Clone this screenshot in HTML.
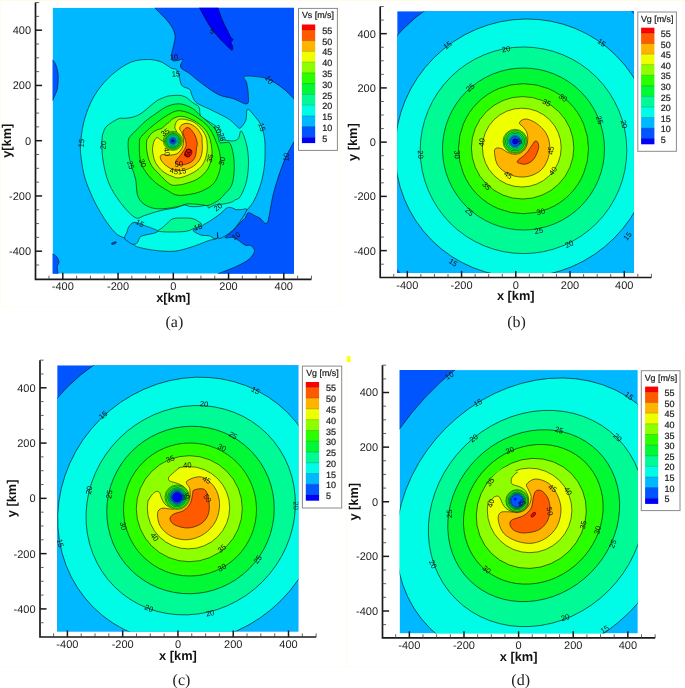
<!DOCTYPE html>
<html><head><meta charset="utf-8"><title>Wind speed contours</title>
<style>
html,body{margin:0;padding:0;background:#fff;}
body{width:685px;height:688px;overflow:hidden;}
svg{display:block;}
text{font-family:"Liberation Sans",sans-serif;fill:#1e1e1e;text-rendering:geometricPrecision;}
svg{will-change:transform;}
.tl{font-size:11px;}
.al{font-size:12.8px;font-weight:bold;fill:#111;}
.lt{font-size:8.9px;fill:#222;stroke:#222;stroke-width:0.22px;}
.lv{font-size:9px;fill:#1a1a1a;stroke:#1a1a1a;stroke-width:0.2px;}
.cap{font-family:"Liberation Serif",serif;font-size:16px;fill:#222;}
.cl{font-size:7.6px;fill:#111;text-anchor:middle;}
</style></head><body>
<svg width="685" height="688" viewBox="0 0 685 688">
<defs>
<clipPath id="ca"><rect x="52.6" y="7.7" width="241.4" height="266"/></clipPath>
<clipPath id="cb"><rect x="397.2" y="11.2" width="236.7" height="261.9"/></clipPath>
<clipPath id="cc"><rect x="57.2" y="365.3" width="241.2" height="266.3"/></clipPath>
<clipPath id="cd"><rect x="399.6" y="370.1" width="238.2" height="263.3"/></clipPath>
</defs>
<rect x="684" y="355" width="1" height="312" fill="#fffdf2"/>
<rect x="0" y="666" width="685" height="1" fill="#fffdf2"/>
<rect x="346" y="355" width="1" height="312" fill="#fffcee"/>
<rect x="0" y="354.5" width="346" height="1" fill="#fffdf2"/>
<rect x="682" y="0" width="1" height="307" fill="#fffcee"/>
<rect x="0" y="306" width="339" height="1" fill="#fffdf2"/>
<rect x="339" y="0" width="1" height="307" fill="#fffcee"/>
<rect x="0" y="0" width="1" height="307" fill="#fffdf0"/>
<rect x="0" y="0" width="685" height="1" fill="#fffbe4"/>
<g clip-path="url(#ca)"><rect x="52.6" y="7.7" width="241.4" height="266" fill="#00b8ff"/>
<path d="M154.8,7.7C155.65,8.6 158.03,11.18 159.9,13.1C161.77,15.02 163.97,16.82 166,19.2C168.03,21.58 170.58,24.6 172.1,27.4C173.62,30.2 174.87,32.95 175.1,36C175.33,39.05 174.1,42.53 173.5,45.7C172.9,48.87 171.65,52.53 171.5,55C171.35,57.47 171.52,59.58 172.6,60.5C173.68,61.42 176.25,60.72 178,60.5C179.75,60.28 182.68,58.1 183.1,59.2C183.52,60.3 179.4,64.68 180.5,67.1C181.6,69.52 185.98,70.85 189.7,73.7C193.42,76.55 197.98,80.7 202.8,84.2C207.62,87.7 213.55,92.3 218.6,94.7C223.65,97.1 228.38,97.07 233.1,98.6C237.82,100.13 244.37,104.52 246.9,103.9C249.43,103.28 248.35,98.43 248.3,94.9C248.25,91.37 247.32,85.75 246.6,82.7C245.88,79.65 242.4,77.62 244,76.6C245.6,75.58 252.13,76.17 256.2,76.6C260.27,77.03 264.03,77.32 268.4,79.2C272.77,81.08 278.33,84.85 282.4,87.9C286.47,90.95 290.87,95.65 292.8,97.5C294.73,99.35 293.8,98.75 294,99 L300,99 L300,2 L154.8,2Z" fill="#0055ff" stroke="#000" stroke-opacity="0.8" stroke-width="0.7"/>
<path d="M294,141.8C292.8,144.02 289.12,150.1 286.8,155.1C284.48,160.1 282.33,165.38 280.1,171.8C277.87,178.22 275.2,186.4 273.4,193.6C271.6,200.8 270.32,210.15 269.3,215C268.28,219.85 268.1,221.42 267.3,222.7C266.5,223.98 265.72,223.45 264.5,222.7C263.28,221.95 261.67,219.4 260,218.2C258.33,217 256.47,216.42 254.5,215.5C252.53,214.58 249.78,212.22 248.2,212.7C246.62,213.18 246.07,217.02 245,218.4C243.93,219.78 243.7,219.07 241.8,221C239.9,222.93 236.35,227.22 233.6,230C230.85,232.78 225.23,236.42 225.3,237.7C225.37,238.98 230.72,236.48 234,237.7C237.28,238.92 242.22,243.68 245,245C247.78,246.32 249.12,244.62 250.7,245.6C252.28,246.58 254.77,248.65 254.5,250.9C254.23,253.15 252.12,256.52 249.1,259.1C246.08,261.68 241.58,263.97 236.4,266.4C231.22,268.83 221.07,272.48 218,273.7 L218,280 L300,280 L300,141.8Z" fill="#0055ff" stroke="#000" stroke-opacity="0.8" stroke-width="0.7"/>
<path d="M52.6,59.9C53.08,60.58 54.58,61.62 55.5,64C56.42,66.38 57.77,70.2 58.1,74.2C58.43,78.2 58.02,84.53 57.5,88C56.98,91.47 55.82,92.9 55,95C54.18,97.1 53,99.67 52.6,100.6 L48,100.6 L48,59.9Z" fill="#0055ff" stroke="#000" stroke-opacity="0.8" stroke-width="0.7"/>
<path d="M52.6,253.9C53.25,254.33 55.42,255.17 56.5,256.5C57.58,257.83 58.97,260.23 59.1,261.9C59.23,263.57 57.48,264.53 57.3,266.5C57.12,268.47 57.88,272.5 58,273.7 L58,280 L48,280 L48,253.9Z" fill="#0055ff" stroke="#000" stroke-opacity="0.8" stroke-width="0.7"/>
<ellipse cx="113.9" cy="243.1" rx="2.6" ry="0.9" transform="rotate(-20 113.9 243.1)" fill="#0055ff" stroke="#000" stroke-opacity="0.8" stroke-width="0.7"/>
<path d="M199.5,7.7C200.35,9.28 202.73,13.92 204.6,17.2C206.47,20.48 208.33,24 210.7,27.4C213.07,30.8 216.25,34.67 218.8,37.6C221.35,40.53 223.8,42.9 226,45C228.2,47.1 230.92,50.03 232,50.2C233.08,50.37 232.67,47.28 232.5,46C232.33,44.72 230.92,43.57 231,42.5C231.08,41.43 233,40.42 233,39.6C233,38.78 231.83,38.95 231,37.6C230.17,36.25 229.35,34.22 228,31.5C226.65,28.78 224.6,25.27 222.9,21.3C221.2,17.33 218.65,9.97 217.8,7.7 L217.8,2 L199.5,2Z" fill="#0000f8" stroke="#000" stroke-opacity="0.8" stroke-width="0.7"/>
<path d="M80.5,145C80.87,138.9 81.9,130.05 83.6,123C85.3,115.95 87.82,108.8 90.7,102.7C93.58,96.6 96.83,91.5 100.9,86.4C104.97,81.3 110.02,76.17 115.1,72.1C120.18,68.03 125.97,64.1 131.4,62C136.83,59.9 142.93,59.58 147.7,59.5C152.47,59.42 156.62,60.42 160,61.5C163.38,62.58 166,64.83 168,66C170,67.17 170.57,67.88 172,68.5C173.43,69.12 175.4,68.4 176.6,69.7C177.8,71 178.33,73.67 179.2,76.3C180.07,78.93 180.05,83.32 181.8,85.5C183.55,87.68 188.05,87.87 189.7,89.4C191.35,90.93 190.6,92.5 191.7,94.7C192.8,96.9 193.35,100.2 196.3,102.6C199.25,105 204.58,106.7 209.4,109.1C214.22,111.5 221.43,114.93 225.2,117C228.97,119.07 229.75,119.67 232,121.5C234.25,123.33 237.08,127.13 238.7,128C240.32,128.87 240.5,128.03 241.7,126.7C242.9,125.37 244.92,122.92 245.9,120C246.88,117.08 246.07,109.75 247.6,109.2C249.13,108.65 252.88,114.05 255.1,116.7C257.32,119.35 259.37,121.75 260.9,125.1C262.43,128.45 263.6,132.63 264.3,136.8C265,140.97 265.1,145.1 265.1,150.1C265.1,155.1 265,161.23 264.3,166.8C263.6,172.37 262.58,177.93 260.9,183.5C259.22,189.07 256.57,195.73 254.2,200.2C251.83,204.67 249.9,206.67 246.7,210.3C243.5,213.93 238.62,218.38 235,222C231.38,225.62 228,229.25 225,232C222,234.75 219.58,237.12 217,238.5C214.42,239.88 212.65,239.27 209.5,240.3C206.35,241.33 202.18,243.25 198.1,244.7C194.02,246.15 189.25,247.9 185,249C180.75,250.1 177.6,251.07 172.6,251.3C167.6,251.53 160.85,251.13 155,250.4C149.15,249.67 141.27,248.13 137.5,246.9C133.73,245.67 134.57,244.48 132.4,243C130.23,241.52 127.12,239.48 124.5,238C121.88,236.52 119.63,236.7 116.7,234.1C113.77,231.5 110.5,227.63 106.9,222.4C103.3,217.17 98.7,209.9 95.1,202.7C91.5,195.5 87.58,186.38 85.3,179.2C83.02,172.02 82.2,165.3 81.4,159.6C80.6,153.9 80.13,151.1 80.5,145Z" fill="#00fce6" stroke="#000" stroke-opacity="0.8" stroke-width="0.7"/>
<path d="M124.5,238C124.33,236.42 126.28,233.87 127,232C127.72,230.13 127.63,228.4 128.8,226.8C129.97,225.2 131.67,222.7 134,222.4C136.33,222.1 139,223.68 142.8,225C146.6,226.32 154.77,228.98 156.8,230.3C158.83,231.62 157.63,231.88 155,232.9C152.37,233.92 143.92,234.78 141,236.4C138.08,238.02 138.82,241.28 137.5,242.6C136.18,243.92 134.68,244.48 133.1,244.3C131.52,244.12 129.43,242.55 128,241.5C126.57,240.45 124.67,239.58 124.5,238Z" fill="#00b8ff" stroke="#000" stroke-opacity="0.8" stroke-width="0.7"/>
<path d="M246.7,210.3C247.7,207.23 242.82,209.72 241,209.6C239.18,209.48 237.25,209.88 235.8,209.6C234.35,209.32 233.77,208.18 232.3,207.9C230.83,207.62 229.05,206.88 227,207.9C224.95,208.92 222.62,211.97 220,214C217.38,216.03 214.22,218.2 211.3,220.1C208.38,222 204.88,224 202.5,225.4C200.12,226.8 198.58,227.65 197,228.5C195.42,229.35 192.37,229.42 193,230.5C193.63,231.58 198.05,234.1 200.8,235C203.55,235.9 207.32,235.32 209.5,235.9C211.68,236.48 212.58,238.2 213.9,238.5C215.22,238.8 216.82,238.72 217.4,237.7C217.98,236.68 217.22,232.3 217.4,232.4C217.58,232.5 217.23,237.7 218.5,238.3C219.77,238.9 222.25,237.72 225,236C227.75,234.28 231.38,232.28 235,228C238.62,223.72 245.7,213.37 246.7,210.3Z" fill="#00b8ff" stroke="#000" stroke-opacity="0.8" stroke-width="0.7"/>
<path d="M102,140C102.1,135.4 102.83,134.17 103.5,132C104.17,129.83 104.75,128.5 106,127C107.25,125.5 108.83,124.42 111,123C113.17,121.58 116.67,119.28 119,118.5C121.33,117.72 122.67,118.53 125,118.3C127.33,118.07 130.32,117.9 133,117.1C135.68,116.3 138.42,115.18 141.1,113.5C143.78,111.82 146.43,109.15 149.1,107C151.77,104.85 154.42,102.27 157.1,100.6C159.78,98.93 163.05,97.8 165.2,97C167.35,96.2 167.6,96.07 170,95.8C172.4,95.53 176.92,95.13 179.6,95.4C182.28,95.67 183.9,96.18 186.1,97.4C188.3,98.62 190.67,101.1 192.8,102.7C194.93,104.3 197.62,104.8 198.9,107C200.18,109.2 199.3,113.75 200.5,115.9C201.7,118.05 203.68,118.3 206.1,119.9C208.52,121.5 212.72,123.77 215,125.5C217.28,127.23 218.73,128.15 219.8,130.3C220.87,132.45 220.53,136.77 221.4,138.4C222.27,140.03 223,139.68 225,140.1C227,140.52 231.17,141.18 233.4,140.9C235.63,140.62 237.15,140.07 238.4,138.4C239.65,136.73 239.93,131.17 240.9,130.9C241.87,130.63 243.08,133.6 244.2,136.8C245.32,140 246.9,145.1 247.6,150.1C248.3,155.1 248.68,161.23 248.4,166.8C248.12,172.37 247.3,178.48 245.9,183.5C244.5,188.52 241.83,194.15 240,196.9C238.17,199.65 236.18,199.18 234.9,200C233.62,200.82 233.75,201.22 232.3,201.8C230.85,202.38 228.25,203.07 226.2,203.5C224.15,203.93 222.05,204.1 220,204.4C217.95,204.7 215.8,204.72 213.9,205.3C212,205.88 209.77,207.9 208.6,207.9C207.43,207.9 208.65,205.52 206.9,205.3C205.15,205.08 200.92,206.4 198.1,206.6C195.28,206.8 192.35,206.77 190,206.5C187.65,206.23 186.35,204.78 184,205C181.65,205.22 179.2,207 175.9,207.8C172.6,208.6 167.9,209.02 164.2,209.8C160.5,210.58 157.02,211.53 153.7,212.5C150.38,213.47 147.42,214.77 144.3,215.6C141.18,216.43 138.95,219.65 135,217.5C131.05,215.35 124.97,208.43 120.6,202.7C116.23,196.97 111.75,190.28 108.8,183.1C105.85,175.92 104.03,166.78 102.9,159.6C101.77,152.42 101.9,144.6 102,140Z" fill="#00fa96" stroke="#000" stroke-opacity="0.8" stroke-width="0.7"/>
<path d="M158.5,231.2C156.73,230.53 160.83,229.03 162,228C163.17,226.97 163.73,226.52 165.5,225C167.27,223.48 169.67,220.07 172.6,218.9C175.53,217.73 179.87,218.07 183.1,218C186.33,217.93 189.67,218.05 192,218.5C194.33,218.95 195.52,219.75 197.1,220.7C198.68,221.65 201.35,223.15 201.5,224.2C201.65,225.25 199.32,226.28 198,227C196.68,227.72 195.5,227.8 193.6,228.5C191.7,229.2 190.1,230.62 186.6,231.2C183.1,231.78 177.28,232 172.6,232C167.92,232 160.27,231.87 158.5,231.2Z" fill="#00fa96" stroke="#000" stroke-opacity="0.8" stroke-width="0.7"/>
<path d="M128.2,141C128.6,137.48 129.93,136.92 131.4,135C132.87,133.08 134.72,131.75 137,129.5C139.28,127.25 141.75,124.3 145.1,121.5C148.45,118.7 153.35,115.25 157.1,112.7C160.85,110.15 164.12,107.68 167.6,106.2C171.08,104.72 174.92,103.93 178,103.8C181.08,103.67 183.42,104.45 186.1,105.4C188.78,106.35 191.97,108.02 194.1,109.5C196.23,110.98 197.17,112.7 198.9,114.3C200.63,115.9 202.35,117.23 204.5,119.1C206.65,120.97 209.92,123.63 211.8,125.5C213.68,127.37 214.73,128.42 215.8,130.3C216.87,132.18 217.5,134.77 218.2,136.8C218.9,138.83 218.87,141.53 220,142.5C221.13,143.47 223.33,142.45 225,142.6C226.67,142.75 228.6,141.32 230,143.4C231.4,145.48 232.7,150.63 233.4,155.1C234.1,159.57 234.48,165.18 234.2,170.2C233.92,175.22 233.23,181.3 231.7,185.2C230.17,189.1 226.95,191.3 225,193.6C223.05,195.9 221.83,197.43 220,199C218.17,200.57 216.1,201.92 214,203C211.9,204.08 209.67,205.23 207.4,205.5C205.13,205.77 202.73,204.85 200.4,204.6C198.07,204.35 195.73,204.1 193.4,204C191.07,203.9 188.73,203.63 186.4,204C184.07,204.37 182.52,205.48 179.4,206.2C176.28,206.92 171.2,207.87 167.7,208.3C164.2,208.73 161.32,208.97 158.4,208.8C155.48,208.63 152.93,208.35 150.2,207.3C147.47,206.25 144.15,204.67 142,202.5C139.85,200.33 138.33,198.05 137.3,194.3C136.27,190.55 136.65,184.37 135.8,180C134.95,175.63 133.33,172.08 132.2,168.1C131.07,164.12 129.67,160.62 129,156.1C128.33,151.58 127.8,144.52 128.2,141Z" fill="#00f836" stroke="#000" stroke-opacity="0.8" stroke-width="0.7"/>
<path d="M139.5,141C139.77,136.98 140.57,137.78 141.9,136C143.23,134.22 144.97,132.58 147.5,130.3C150.03,128.02 153.75,124.83 157.1,122.3C160.45,119.77 164.12,117.03 167.6,115.1C171.08,113.17 174.25,110.97 178,110.7C181.75,110.43 186.35,111.97 190.1,113.5C193.85,115.03 197.55,117.77 200.5,119.9C203.45,122.03 205.78,124.02 207.8,126.3C209.82,128.58 211.27,131.15 212.6,133.6C213.93,136.05 214.73,138.27 215.8,141C216.87,143.73 218.18,146.6 219,150C219.82,153.4 220.65,157.73 220.7,161.4C220.75,165.07 220.42,168.4 219.3,172C218.18,175.6 216.38,180.08 214,183C211.62,185.92 208.32,187.75 205,189.5C201.68,191.25 198.6,192.53 194.1,193.5C189.6,194.47 182.42,195.8 178,195.3C173.58,194.8 171.35,192.62 167.6,190.5C163.85,188.38 159.12,185.67 155.5,182.6C151.88,179.53 148.43,175.85 145.9,172.1C143.37,168.35 141.37,165.28 140.3,160.1C139.23,154.92 139.23,145.02 139.5,141Z" fill="#2aff00" stroke="#000" stroke-opacity="0.8" stroke-width="0.7"/>
<path d="M146.7,141C146.92,138.67 147.67,139.08 148.3,138C148.93,136.92 149.7,135.5 150.5,134.5C151.3,133.5 151.85,132.83 153.1,132C154.35,131.17 156.53,130.12 158,129.5C159.47,128.88 160.57,129.13 161.9,128.3C163.23,127.47 164.78,125.5 166,124.5C167.22,123.5 168,123.3 169.2,122.3C170.4,121.3 171.07,119.5 173.2,118.5C175.33,117.5 178.52,115.93 182,116.3C185.48,116.67 190.48,118.77 194.1,120.7C197.72,122.63 201.28,125.48 203.7,127.9C206.12,130.32 207.33,132.38 208.6,135.2C209.87,138.02 210.77,141.32 211.3,144.8C211.83,148.28 212.38,152.08 211.8,156.1C211.22,160.12 210.08,165.15 207.8,168.9C205.52,172.65 201.72,176.18 198.1,178.6C194.48,181.02 189.45,182.33 186.1,183.4C182.75,184.47 180.68,184.87 178,185C175.32,185.13 173.22,186.08 170,184.2C166.78,182.32 161.92,177.05 158.7,173.7C155.48,170.35 152.65,167.72 150.7,164.1C148.75,160.48 147.67,155.85 147,152C146.33,148.15 146.48,143.33 146.7,141Z" fill="#8eff00" stroke="#000" stroke-opacity="0.8" stroke-width="0.7"/>
<path d="M157.1,137.6C156.3,137.77 155.38,138.77 154.7,140C154.02,141.23 153.33,143 153,145C152.67,147 152.28,149.08 152.7,152C153.12,154.92 153.82,159.28 155.5,162.5C157.18,165.72 160.12,169.03 162.8,171.3C165.48,173.57 168.73,175.02 171.6,176.1C174.47,177.18 176.25,178.47 180,177.8C183.75,177.13 190.28,174.38 194.1,172.1C197.92,169.82 200.77,167.3 202.9,164.1C205.03,160.9 206.23,156.75 206.9,152.9C207.57,149.05 207.3,144.22 206.9,141C206.5,137.78 205.7,135.92 204.5,133.6C203.3,131.28 201.7,129.12 199.7,127.1C197.7,125.08 195.45,122.83 192.5,121.5C189.55,120.17 184.58,119.18 182,119.1C179.42,119.02 178.2,119.67 177,121C175.8,122.33 174.88,125.27 174.8,127.1C174.72,128.93 176.47,129.85 176.5,132C176.53,134.15 176.42,138.17 175,140C173.58,141.83 170.08,142.83 168,143C165.92,143.17 163.92,141.67 162.5,141C161.08,140.33 160.4,139.57 159.5,139C158.6,138.43 157.9,137.43 157.1,137.6Z" fill="#eeff00" stroke="#000" stroke-opacity="0.8" stroke-width="0.7"/>
<path d="M160.3,156.1C160.02,157.03 160.28,158.63 161.1,160.1C161.92,161.57 163.18,163.3 165.2,164.9C167.22,166.5 170.4,168.77 173.2,169.7C176,170.63 178.92,170.9 182,170.5C185.08,170.1 188.88,168.9 191.7,167.3C194.52,165.7 197.17,163.45 198.9,160.9C200.63,158.35 201.57,155.48 202.1,152C202.63,148.52 202.23,142.8 202.1,140C201.97,137.2 202.23,137.22 201.3,135.2C200.37,133.18 198.63,129.85 196.5,127.9C194.37,125.95 190.92,124.03 188.5,123.5C186.08,122.97 183.48,123.83 182,124.7C180.52,125.57 179.6,127.32 179.6,128.7C179.6,130.08 181.35,131.12 182,133C182.65,134.88 183.42,137.67 183.5,140C183.58,142.33 183.42,144.83 182.5,147C181.58,149.17 179.75,151.67 178,153C176.25,154.33 174,154.67 172,155C170,155.33 167.53,155.08 166,155C164.47,154.92 163.75,154.32 162.8,154.5C161.85,154.68 160.58,155.17 160.3,156.1Z" fill="#ffb400" stroke="#000" stroke-opacity="0.8" stroke-width="0.7"/>
<path d="M182.9,132C183.17,130.38 184.9,128.45 186.1,127.9C187.3,127.35 188.63,127.48 190.1,128.7C191.57,129.92 193.7,132.78 194.9,135.2C196.1,137.62 197.03,141.07 197.3,143.2C197.57,145.33 196.77,145.98 196.5,148C196.23,150.02 196.37,153.15 195.7,155.3C195.03,157.45 194.1,159.43 192.5,160.9C190.9,162.37 188.38,163.43 186.1,164.1C183.82,164.77 180.55,165.03 178.8,164.9C177.05,164.77 176,164.1 175.6,163.3C175.2,162.5 175.6,161.43 176.4,160.1C177.2,158.77 178.92,157.32 180.4,155.3C181.88,153.28 184.35,150.02 185.3,148C186.25,145.98 186.23,144.93 186.1,143.2C185.97,141.47 185.03,139.47 184.5,137.6C183.97,135.73 182.63,133.62 182.9,132Z" fill="#ff5a00" stroke="#000" stroke-opacity="0.8" stroke-width="0.7"/>
<ellipse cx="188.3" cy="153" rx="3.3" ry="4.2" transform="rotate(25 188.3 153)" fill="#ff0000" stroke="#000" stroke-opacity="0.8" stroke-width="0.7"/>
<circle cx="172.9" cy="140.9" r="9.6" fill="#8eff00" stroke="#000" stroke-opacity="0.8" stroke-width="0.55"/><circle cx="172.9" cy="140.9" r="8.5" fill="#2aff00" stroke="#000" stroke-opacity="0.8" stroke-width="0.55"/><circle cx="172.9" cy="140.9" r="7.3" fill="#00f836" stroke="#000" stroke-opacity="0.8" stroke-width="0.55"/><circle cx="172.9" cy="140.9" r="6.1" fill="#00fa96" stroke="#000" stroke-opacity="0.8" stroke-width="0.55"/><circle cx="172.9" cy="140.9" r="4.9" fill="#00fce6" stroke="#000" stroke-opacity="0.8" stroke-width="0.55"/><circle cx="172.9" cy="140.9" r="3.8" fill="#00b8ff" stroke="#000" stroke-opacity="0.8" stroke-width="0.55"/><circle cx="172.9" cy="140.9" r="2.7" fill="#0055ff" stroke="#000" stroke-opacity="0.8" stroke-width="0.55"/><circle cx="172.9" cy="140.9" r="1.2" fill="#0000f8" stroke="#000" stroke-opacity="0.8" stroke-width="0.55"/>
<text x="212" y="33.7" transform="rotate(15.95 212 31)" class="cl">5</text>
<text x="174" y="59.7" transform="rotate(-2.46 174 57)" class="cl">10</text>
<text x="176" y="76.5" transform="rotate(-1.5 176 73.8)" class="cl">15</text>
<text x="269.2" y="82.5" transform="rotate(52.41 269.2 79.8)" class="cl">10</text>
<text x="262" y="129.7" transform="rotate(74.69 262 127)" class="cl">15</text>
<text x="286" y="159.7" transform="rotate(-86.29 286 157)" class="cl">10</text>
<text x="81.2" y="145.7" transform="rotate(-85.86 81.2 143)" class="cl">15</text>
<text x="103.2" y="147.7" transform="rotate(-86.18 103.2 145)" class="cl">20</text>
<text x="165.2" y="134.9" transform="rotate(-35.72 165.2 132.2)" class="cl">35</text>
<text x="218" y="131.7" transform="rotate(62.3 218 129)" class="cl">20</text>
<text x="222" y="139.7" transform="rotate(73.54 222 137)" class="cl">25</text>
<text x="222" y="163.7" transform="rotate(-75.96 222 161)" class="cl">30</text>
<text x="166.8" y="154.5" transform="rotate(80.87 166.8 151.8)" class="cl">40</text>
<text x="188" y="155.7" transform="rotate(-73.3 188 153)" class="cl">50</text>
<text x="130.8" y="167.7" transform="rotate(72.37 130.8 165)" class="cl">25</text>
<text x="142.8" y="165.7" transform="rotate(69.73 142.8 163)" class="cl">30</text>
<text x="178.8" y="166.5" transform="rotate(-3.32 178.8 163.8)" class="cl">50</text>
<text x="210" y="160.9" transform="rotate(-75.63 210 158.2)" class="cl">35</text>
<text x="174" y="173.7" transform="rotate(10.78 174 171)" class="cl">45</text>
<text x="182" y="173.7" transform="rotate(-10.78 182 171)" class="cl">15</text>
<text x="218" y="209.7" transform="rotate(-35.06 218 207)" class="cl">20</text>
<text x="140" y="225.7" transform="rotate(27.5 140 223)" class="cl">15</text>
<text x="198" y="229.7" transform="rotate(-14.56 198 227)" class="cl">15</text>
<text x="236" y="238.5" transform="rotate(-34.06 236 235.8)" class="cl">10</text></g>
<g clip-path="url(#cb)"><rect x="397.2" y="11.2" width="236.7" height="261.9" fill="#0055ff"/>
<ellipse cx="523.5" cy="149" rx="176" ry="170" transform="rotate(-45 523.5 149)" fill="#00b8ff" stroke="#000" stroke-opacity="0.8" stroke-width="0.7"/>
<path d="M396,267.5L401.5,274L396,274Z" fill="#0055ff"/>
<path d="M629.5,10L635,10L635,15Z" fill="#0055ff"/>
<ellipse cx="524" cy="148" rx="130.5" ry="127.5" transform="rotate(-45 524 148)" fill="#00fce6" stroke="#000" stroke-opacity="0.8" stroke-width="0.7"/>
<circle cx="523.5" cy="150.3" r="103.3" fill="#00fa96" stroke="#000" stroke-opacity="0.8" stroke-width="0.7"/>
<circle cx="523.5" cy="149" r="81" fill="#00f836" stroke="#000" stroke-opacity="0.8" stroke-width="0.7"/>
<circle cx="523.5" cy="148.7" r="65" fill="#2aff00" stroke="#000" stroke-opacity="0.8" stroke-width="0.7"/>
<circle cx="522.6" cy="147.8" r="51.2" fill="#8eff00" stroke="#000" stroke-opacity="0.8" stroke-width="0.7"/>
<circle cx="521.8" cy="147.6" r="39.4" fill="#eeff00" stroke="#000" stroke-opacity="0.8" stroke-width="0.7"/>
<path d="M519.4,123.4C519.17,122.2 520.68,120.8 522,120.1C523.32,119.4 524.88,118.65 527.3,119.2C529.72,119.75 533.43,121.17 536.5,123.4C539.57,125.63 543.52,129.1 545.7,132.6C547.88,136.1 549.17,140.23 549.6,144.4C550.03,148.57 549.6,153.43 548.3,157.6C547,161.77 544.87,166.33 541.8,169.4C538.73,172.47 534.07,174.8 529.9,176C525.73,177.2 520.95,177.27 516.8,176.6C512.65,175.93 508.28,174.08 505,172C501.72,169.92 498.85,167.38 497.1,164.1C495.35,160.82 494.72,154.92 494.5,152.3C494.28,149.68 494.72,149.05 495.8,148.4C496.88,147.75 499.03,147.75 501,148.4C502.97,149.05 505.18,151.32 507.6,152.3C510.02,153.28 512.87,154.52 515.5,154.3C518.13,154.08 521.43,152.87 523.4,151C525.37,149.13 526.65,145.95 527.3,143.1C527.95,140.25 527.95,136.53 527.3,133.9C526.65,131.27 524.72,129.05 523.4,127.3C522.08,125.55 519.63,124.6 519.4,123.4Z" fill="#ffb400" stroke="#000" stroke-opacity="0.8" stroke-width="0.7"/>
<path d="M535.2,141.1C536.07,140.77 537.25,141.18 537.8,142.4C538.35,143.62 539.15,145.65 538.5,148.4C537.85,151.15 535.98,156.28 533.9,158.9C531.82,161.52 528.63,163.45 526,164.1C523.37,164.75 519.42,163.45 518.1,162.8C516.78,162.15 516.78,161.73 518.1,160.2C519.42,158.67 523.58,156.23 526,153.6C528.42,150.97 531.07,146.48 532.6,144.4C534.13,142.32 534.33,141.43 535.2,141.1Z" fill="#ff5a00" stroke="#000" stroke-opacity="0.8" stroke-width="0.7"/>
<circle cx="515.1" cy="141.4" r="12.1" fill="#8eff00" stroke="#000" stroke-opacity="0.8" stroke-width="0.55"/><circle cx="515.1" cy="141.4" r="11.2" fill="#2aff00" stroke="#000" stroke-opacity="0.8" stroke-width="0.55"/><circle cx="515.1" cy="141.4" r="9.6" fill="#00f836" stroke="#000" stroke-opacity="0.8" stroke-width="0.55"/><circle cx="515.1" cy="141.4" r="8" fill="#00fa96" stroke="#000" stroke-opacity="0.8" stroke-width="0.55"/><circle cx="515.1" cy="141.4" r="6.6" fill="#00fce6" stroke="#000" stroke-opacity="0.8" stroke-width="0.55"/><circle cx="515.1" cy="141.4" r="5.8" fill="#00b8ff" stroke="#000" stroke-opacity="0.8" stroke-width="0.55"/><circle cx="515.1" cy="141.4" r="4.9" fill="#0055ff" stroke="#000" stroke-opacity="0.8" stroke-width="0.55"/><circle cx="515.1" cy="141.4" r="2.6" fill="#0000f8" stroke="#000" stroke-opacity="0.8" stroke-width="0.55"/>
<text x="447.5" y="47.8" transform="rotate(-36.18 447.5 45.1)" class="cl">15</text>
<text x="506" y="51.7" transform="rotate(-9.93 506 49)" class="cl">20</text>
<text x="601.7" y="45.4" transform="rotate(36.34 601.7 42.7)" class="cl">15</text>
<text x="470.3" y="90.2" transform="rotate(-40.86 470.3 87.5)" class="cl">25</text>
<text x="563.1" y="100.3" transform="rotate(37.61 563.1 97.6)" class="cl">30</text>
<text x="546.8" y="105.2" transform="rotate(26.61 546.8 102.5)" class="cl">35</text>
<text x="599.7" y="122.7" transform="rotate(69.16 599.7 120)" class="cl">25</text>
<text x="624.1" y="126.8" transform="rotate(76.1 624.1 124.1)" class="cl">20</text>
<text x="481.7" y="145.1" transform="rotate(-81.03 481.7 142.4)" class="cl">40</text>
<text x="420.7" y="157.3" transform="rotate(86.88 420.7 154.6)" class="cl">20</text>
<text x="457.3" y="157.3" transform="rotate(85.16 457.3 154.6)" class="cl">30</text>
<text x="550.9" y="153.2" transform="rotate(-86.87 550.9 150.5)" class="cl">45</text>
<text x="508.2" y="177.6" transform="rotate(30.57 508.2 174.9)" class="cl">45</text>
<text x="552.9" y="173.6" transform="rotate(-53.32 552.9 170.9)" class="cl">40</text>
<text x="486.6" y="188.6" transform="rotate(45 486.6 185.9)" class="cl">35</text>
<text x="469.5" y="214.3" transform="rotate(40.78 469.5 211.6)" class="cl">25</text>
<text x="540.7" y="214.3" transform="rotate(-15.36 540.7 211.6)" class="cl">30</text>
<text x="538.7" y="233.4" transform="rotate(-10.54 538.7 230.7)" class="cl">25</text>
<text x="569.2" y="246.8" transform="rotate(-25.67 569.2 244.1)" class="cl">20</text>
<text x="627.4" y="238.7" transform="rotate(-50.06 627.4 236)" class="cl">15</text>
<text x="453.2" y="265.1" transform="rotate(31.8 453.2 262.4)" class="cl">15</text>
<text x="519.5" y="144.2" transform="rotate(-28.07 519.5 141.5)" class="cl">5</text></g>
<g clip-path="url(#cc)"><rect x="57.2" y="365.3" width="241.2" height="266.3" fill="#0055ff"/>
<ellipse cx="190.5" cy="510" rx="181" ry="174" transform="rotate(-45 190.5 510)" fill="#00b8ff" stroke="#000" stroke-opacity="0.8" stroke-width="0.7"/>
<ellipse cx="190.5" cy="510" rx="137.5" ry="128" transform="rotate(-45 190.5 510)" fill="#00fce6" stroke="#000" stroke-opacity="0.8" stroke-width="0.7"/>
<ellipse cx="190.7" cy="510.2" rx="108" ry="101.3" transform="rotate(-45 190.7 510.2)" fill="#00fa96" stroke="#000" stroke-opacity="0.8" stroke-width="0.7"/>
<ellipse cx="190.5" cy="510" rx="84.5" ry="83" transform="rotate(-45 190.5 510)" fill="#00f836" stroke="#000" stroke-opacity="0.8" stroke-width="0.7"/>
<circle cx="190" cy="509.5" r="66.5" fill="#2aff00" stroke="#000" stroke-opacity="0.8" stroke-width="0.7"/>
<circle cx="189.3" cy="508.7" r="53" fill="#8eff00" stroke="#000" stroke-opacity="0.8" stroke-width="0.7"/>
<circle cx="188.5" cy="507.7" r="41.2" fill="#eeff00" stroke="#000" stroke-opacity="0.8" stroke-width="0.7"/>
<path d="M179.42,467.99C180.75,468.94 178.44,468.48 177.23,469.45C176.01,470.43 173.5,472.59 172.12,473.83C170.73,475.07 169.51,476.05 168.91,476.9C168.3,477.75 168.3,478.24 168.47,478.94C168.64,479.65 168.47,480.4 169.93,481.13C171.39,481.86 175.04,482.47 177.23,483.32C179.42,484.17 181.48,485.15 183.07,486.24C184.65,487.34 185.79,488.53 186.72,489.89C187.64,491.25 188.37,492.93 188.61,494.42C188.86,495.9 188.69,497.34 188.18,498.8C187.66,500.26 186.76,501.91 185.55,503.18C184.33,504.44 182.75,505.66 180.88,506.39C179,507.12 176.37,507.51 174.31,507.55C172.24,507.6 170.17,507.43 168.47,506.68C166.76,505.92 165.3,504.61 164.09,503.03C162.87,501.45 161.9,498.89 161.17,497.19C160.44,495.49 160.44,493.78 159.71,492.81C158.98,491.84 158,491.11 156.79,491.35C155.57,491.59 153.87,492.69 152.41,494.27C150.95,495.85 149.37,501.3 148.03,500.84C146.69,500.38 143.28,496.22 144.38,491.5C145.47,486.78 150.46,477.14 154.6,472.52C158.73,467.9 165.06,464.51 169.2,463.76C173.33,463 178.08,467.04 179.42,467.99Z" fill="#8eff00"/>
<path d="M179.42,467.99C179.05,468.24 178.44,468.48 177.23,469.45C176.01,470.43 173.5,472.59 172.12,473.83C170.73,475.07 169.51,476.05 168.91,476.9C168.3,477.75 168.3,478.24 168.47,478.94C168.64,479.65 168.47,480.4 169.93,481.13C171.39,481.86 175.04,482.47 177.23,483.32C179.42,484.17 181.48,485.15 183.07,486.24C184.65,487.34 185.79,488.53 186.72,489.89C187.64,491.25 188.37,492.93 188.61,494.42C188.86,495.9 188.69,497.34 188.18,498.8C187.66,500.26 186.76,501.91 185.55,503.18C184.33,504.44 182.75,505.66 180.88,506.39C179,507.12 176.37,507.51 174.31,507.55C172.24,507.6 170.17,507.43 168.47,506.68C166.76,505.92 165.3,504.61 164.09,503.03C162.87,501.45 161.9,498.89 161.17,497.19C160.44,495.49 160.44,493.78 159.71,492.81C158.98,491.84 158,491.11 156.79,491.35C155.57,491.59 153.87,492.69 152.41,494.27C150.95,495.85 148.76,499.74 148.03,500.84" fill="none" stroke="#000" stroke-opacity="0.8" stroke-width="0.7"/>
<path d="M186.72,481.28C188.66,479.33 196.69,475.92 201.31,476.9C205.94,477.87 211.41,482.74 214.45,487.12C217.49,491.5 219.32,497.58 219.56,503.18C219.81,508.77 218.47,515.58 215.91,520.69C213.36,525.8 208.86,530.67 204.23,533.83C199.61,537 193.53,539.18 188.18,539.67C182.82,540.16 176.74,538.94 172.12,536.75C167.49,534.56 162.87,530.43 160.44,526.53C158,522.64 157.27,516.44 157.52,513.39C157.76,510.35 159.46,509.01 161.9,508.28C164.33,507.55 168.47,509.38 172.12,509.01C175.77,508.65 180.88,507.8 183.8,506.09C186.72,504.39 188.66,501.72 189.64,498.8C190.61,495.88 190.12,491.5 189.64,488.58C189.15,485.66 184.77,483.22 186.72,481.28Z" fill="#ffb400" stroke="#000" stroke-opacity="0.8" stroke-width="0.7"/>
<path d="M194.01,490.04C195.96,489.18 201.8,487.85 204.23,489.31C206.67,490.77 207.88,494.78 208.61,498.8C209.34,502.81 209.83,509.26 208.61,513.39C207.4,517.53 204.72,521.18 201.31,523.61C197.91,526.05 192.55,527.75 188.18,527.99C183.8,528.24 178.08,526.53 175.04,525.07C172,523.61 170.17,521.06 169.93,519.23C169.68,517.41 171.27,515.58 173.58,514.12C175.89,512.66 181,512.3 183.8,510.47C186.59,508.65 188.91,505.85 190.36,503.18C191.82,500.5 191.95,496.61 192.55,494.42C193.16,492.23 192.07,490.89 194.01,490.04Z" fill="#ff5a00" stroke="#000" stroke-opacity="0.8" stroke-width="0.7"/>
<circle cx="177.2" cy="497.2" r="12.3" fill="#8eff00" stroke="#000" stroke-opacity="0.8" stroke-width="0.55"/><circle cx="177.2" cy="497.2" r="11.3" fill="#2aff00" stroke="#000" stroke-opacity="0.8" stroke-width="0.55"/><circle cx="177.2" cy="497.2" r="9.6" fill="#00f836" stroke="#000" stroke-opacity="0.8" stroke-width="0.55"/><circle cx="177.2" cy="497.2" r="8.4" fill="#00fa96" stroke="#000" stroke-opacity="0.8" stroke-width="0.55"/><circle cx="177.2" cy="497.2" r="7.5" fill="#00fce6" stroke="#000" stroke-opacity="0.8" stroke-width="0.55"/><circle cx="177.2" cy="497.2" r="6.8" fill="#00b8ff" stroke="#000" stroke-opacity="0.8" stroke-width="0.55"/><circle cx="177.2" cy="497.2" r="6" fill="#0055ff" stroke="#000" stroke-opacity="0.8" stroke-width="0.55"/><circle cx="177.2" cy="497.2" r="4.6" fill="#0000f8" stroke="#000" stroke-opacity="0.8" stroke-width="0.55"/>
<text x="255.6" y="393.2" transform="rotate(28.58 255.6 390.5)" class="cl">15</text>
<text x="204" y="406.6" transform="rotate(7.25 204 403.9)" class="cl">20</text>
<text x="103.1" y="417.6" transform="rotate(-42.58 103.1 414.9)" class="cl">15</text>
<text x="233.2" y="438" transform="rotate(29.75 233.2 435.3)" class="cl">25</text>
<text x="221.9" y="450.2" transform="rotate(26.67 221.9 447.5)" class="cl">30</text>
<text x="170.2" y="461.6" transform="rotate(-21.67 170.2 458.9)" class="cl">35</text>
<text x="187.3" y="467.7" transform="rotate(-4.07 187.3 465)" class="cl">40</text>
<text x="206.8" y="482.7" transform="rotate(28.52 206.8 480)" class="cl">45</text>
<text x="88.8" y="492.9" transform="rotate(-78.98 88.8 490.2)" class="cl">20</text>
<text x="109.2" y="497" transform="rotate(-79.07 109.2 494.3)" class="cl">25</text>
<text x="207.6" y="501" transform="rotate(55.62 207.6 498.3)" class="cl">50</text>
<text x="296.3" y="508.3" transform="rotate(87.62 296.3 505.6)" class="cl">20</text>
<text x="123.4" y="528.7" transform="rotate(76.59 123.4 526)" class="cl">30</text>
<text x="154.7" y="539.7" transform="rotate(52.98 154.7 537)" class="cl">40</text>
<text x="60.3" y="545.8" transform="rotate(75.74 60.3 543.1)" class="cl">15</text>
<text x="221.9" y="551.1" transform="rotate(-39.27 221.9 548.4)" class="cl">35</text>
<text x="257.7" y="562" transform="rotate(-53.74 257.7 559.3)" class="cl">25</text>
<text x="221.9" y="570.2" transform="rotate(-28.64 221.9 567.5)" class="cl">30</text>
<text x="149" y="610.9" transform="rotate(22.91 149 608.2)" class="cl">20</text>
<text x="210.1" y="615.7" transform="rotate(-10.77 210.1 613)" class="cl">20</text>
<text x="185.5" y="499.2" transform="rotate(-20.32 185.5 496.5)" class="cl">35</text></g>
<g clip-path="url(#cd)"><rect x="399.6" y="370.1" width="238.2" height="263.3" fill="#00b8ff"/>
<path d="M398,369L456.1,369Q425,393 398,431Z" fill="#0055ff" stroke="#000" stroke-opacity="0.8" stroke-width="0.7"/>
<ellipse cx="537.9" cy="519.9" rx="153" ry="130" transform="rotate(-45 537.9 519.9)" fill="#00fce6" stroke="#000" stroke-opacity="0.8" stroke-width="0.7"/>
<ellipse cx="536.5" cy="518.5" rx="114" ry="102" transform="rotate(-45 536.5 518.5)" fill="#00fa96" stroke="#000" stroke-opacity="0.8" stroke-width="0.7"/>
<ellipse cx="533.7" cy="515.7" rx="91" ry="80.6" transform="rotate(-45 533.7 515.7)" fill="#00f836" stroke="#000" stroke-opacity="0.8" stroke-width="0.7"/>
<ellipse cx="533.3" cy="514.3" rx="73.5" ry="66" transform="rotate(-45 533.3 514.3)" fill="#2aff00" stroke="#000" stroke-opacity="0.8" stroke-width="0.7"/>
<ellipse cx="531.3" cy="513.4" rx="56.5" ry="53.5" transform="rotate(-45 531.3 513.4)" fill="#8eff00" stroke="#000" stroke-opacity="0.8" stroke-width="0.7"/>
<circle cx="529.6" cy="510.4" r="42.3" fill="#eeff00" stroke="#000" stroke-opacity="0.8" stroke-width="0.7"/>
<path d="M517.7,472C519.17,473.2 515.77,473.23 514.8,474.2C513.83,475.17 512.5,476.58 511.9,477.8C511.3,479.02 511.08,480.4 511.2,481.5C511.32,482.6 511.27,483.55 512.6,484.4C513.93,485.25 517.25,485.75 519.2,486.6C521.15,487.45 522.97,488.28 524.3,489.5C525.63,490.72 526.47,492.32 527.2,493.9C527.93,495.48 528.57,497.18 528.7,499C528.83,500.82 528.62,503.1 528,504.8C527.38,506.5 526.47,508.03 525,509.2C523.53,510.37 521.38,511.43 519.2,511.8C517.02,512.17 514.08,511.95 511.9,511.4C509.72,510.85 507.68,509.83 506.1,508.5C504.52,507.17 503.38,505.1 502.4,503.4C501.42,501.7 500.93,499.52 500.2,498.3C499.47,497.08 498.97,496.35 498,496.1C497.03,495.85 495.48,496.2 494.4,496.8C493.32,497.4 492.32,498.92 491.5,499.7C490.68,500.48 490.42,502.28 489.5,501.5C488.58,500.72 485.58,498.92 486,495C486.42,491.08 488.67,482.67 492,478C495.33,473.33 501.72,468 506,467C510.28,466 516.23,470.8 517.7,472Z" fill="#8eff00"/>
<path d="M517.7,472C517.22,472.37 515.77,473.23 514.8,474.2C513.83,475.17 512.5,476.58 511.9,477.8C511.3,479.02 511.08,480.4 511.2,481.5C511.32,482.6 511.27,483.55 512.6,484.4C513.93,485.25 517.25,485.75 519.2,486.6C521.15,487.45 522.97,488.28 524.3,489.5C525.63,490.72 526.47,492.32 527.2,493.9C527.93,495.48 528.57,497.18 528.7,499C528.83,500.82 528.62,503.1 528,504.8C527.38,506.5 526.47,508.03 525,509.2C523.53,510.37 521.38,511.43 519.2,511.8C517.02,512.17 514.08,511.95 511.9,511.4C509.72,510.85 507.68,509.83 506.1,508.5C504.52,507.17 503.38,505.1 502.4,503.4C501.42,501.7 500.93,499.52 500.2,498.3C499.47,497.08 498.97,496.35 498,496.1C497.03,495.85 495.48,496.2 494.4,496.8C493.32,497.4 492.32,498.92 491.5,499.7C490.68,500.48 489.83,501.2 489.5,501.5" fill="none" stroke="#000" stroke-opacity="0.8" stroke-width="0.7"/>
<path d="M526.72,484.09C527.93,482.38 531.82,479.1 535.47,478.98C539.12,478.86 544.96,480.68 548.61,483.36C552.26,486.03 555.3,490.66 557.37,495.04C559.44,499.42 561.02,504.53 561.02,509.64C561.02,514.74 559.68,521.07 557.37,525.69C555.06,530.32 551.29,534.45 547.15,537.37C543.02,540.29 537.66,542.6 532.55,543.21C527.45,543.82 521.36,542.73 516.5,541.02C511.63,539.32 506.4,536.52 503.36,532.99C500.32,529.46 498.73,523.26 498.25,519.85C497.76,516.45 498.61,513.89 500.44,512.55C502.26,511.22 506.28,511.82 509.2,511.82C512.12,511.82 515.28,512.92 517.96,512.55C520.63,512.19 523.31,511.09 525.26,509.64C527.2,508.18 528.66,505.99 529.64,503.8C530.61,501.61 531.34,498.93 531.09,496.5C530.85,494.06 528.91,491.27 528.18,489.2C527.45,487.13 525.5,485.79 526.72,484.09Z" fill="#ffb400" stroke="#000" stroke-opacity="0.8" stroke-width="0.7"/>
<path d="M535.47,491.39C536.81,490.17 539.25,489.56 541.31,490.66C543.38,491.75 546.42,494.79 547.88,497.96C549.34,501.12 550.19,505.74 550.07,509.64C549.95,513.53 549.1,517.91 547.15,521.31C545.21,524.72 542.29,528.13 538.39,530.07C534.5,532.02 527.93,532.99 523.8,532.99C519.66,532.99 515.89,531.53 513.58,530.07C511.27,528.61 510.17,525.94 509.93,524.23C509.68,522.53 509.81,521.31 512.12,519.85C514.43,518.39 520.63,517.42 523.8,515.47C526.96,513.53 529.51,511.09 531.09,508.18C532.68,505.26 532.55,500.75 533.28,497.96C534.01,495.16 534.14,492.6 535.47,491.39Z" fill="#ff5a00" stroke="#000" stroke-opacity="0.8" stroke-width="0.7"/>
<ellipse cx="533.3" cy="514.7" rx="2.9" ry="1.5" transform="rotate(-45 533.3 514.7)" fill="#ff0000" stroke="#000" stroke-opacity="0.8" stroke-width="0.7"/>
<circle cx="517" cy="500.8" r="11.2" fill="#8eff00" stroke="#000" stroke-opacity="0.8" stroke-width="0.55"/><circle cx="517" cy="500.8" r="10.5" fill="#2aff00" stroke="#000" stroke-opacity="0.8" stroke-width="0.55"/><circle cx="517" cy="500.8" r="9" fill="#00f836" stroke="#000" stroke-opacity="0.8" stroke-width="0.55"/><circle cx="517" cy="500.8" r="8" fill="#00fa96" stroke="#000" stroke-opacity="0.8" stroke-width="0.55"/><circle cx="517" cy="500.8" r="7.3" fill="#00fce6" stroke="#000" stroke-opacity="0.8" stroke-width="0.55"/><circle cx="517" cy="500.8" r="6.8" fill="#00b8ff" stroke="#000" stroke-opacity="0.8" stroke-width="0.55"/><circle cx="517" cy="500.8" r="6.2" fill="#0055ff" stroke="#000" stroke-opacity="0.8" stroke-width="0.55"/><circle cx="517" cy="500.8" r="0.01" fill="#0000f8" stroke="#000" stroke-opacity="0.8" stroke-width="0.55"/>
<ellipse cx="515.2" cy="499" rx="1.6" ry="1.3" transform="rotate(-45 515.2 499)" fill="#0000f8"/>
<ellipse cx="519.9" cy="502.7" rx="1.6" ry="1.3" transform="rotate(-45 519.9 502.7)" fill="#0000f8"/>
<text x="449.3" y="378.2" transform="rotate(-31.15 449.3 375.5)" class="cl">10</text>
<text x="477.8" y="405.4" transform="rotate(-26.38 477.8 402.7)" class="cl">15</text>
<text x="629.1" y="398.5" transform="rotate(39.11 629.1 395.8)" class="cl">15</text>
<text x="473.7" y="440.8" transform="rotate(-38 473.7 438.1)" class="cl">20</text>
<text x="559.1" y="432.7" transform="rotate(17.26 559.1 430)" class="cl">25</text>
<text x="617.7" y="440" transform="rotate(47.84 617.7 437.3)" class="cl">20</text>
<text x="509.9" y="453" transform="rotate(-19.93 509.9 450.3)" class="cl">30</text>
<text x="490" y="484.7" transform="rotate(-53.34 490 482)" class="cl">35</text>
<text x="552.6" y="490.9" transform="rotate(37.22 552.6 488.2)" class="cl">45</text>
<text x="568.1" y="493.7" transform="rotate(56.76 568.1 491)" class="cl">40</text>
<text x="490.8" y="505.9" transform="rotate(-75.64 490.8 503.2)" class="cl">40</text>
<text x="449.3" y="516.5" transform="rotate(-89.86 449.3 513.8)" class="cl">25</text>
<text x="549.8" y="514" transform="rotate(80.87 549.8 511.3)" class="cl">50</text>
<text x="583.1" y="527.5" transform="rotate(-77.83 583.1 524.8)" class="cl">35</text>
<text x="597.4" y="532.8" transform="rotate(-75.96 597.4 530.1)" class="cl">30</text>
<text x="612.8" y="546.6" transform="rotate(-69.46 612.8 543.9)" class="cl">25</text>
<text x="433" y="566.9" transform="rotate(63.34 433 564.2)" class="cl">20</text>
<text x="486.7" y="572.2" transform="rotate(39.84 486.7 569.5)" class="cl">30</text>
<text x="565.2" y="620.2" transform="rotate(-17.28 565.2 617.5)" class="cl">20</text>
<text x="604.7" y="632" transform="rotate(-31.88 604.7 629.3)" class="cl">15</text>
<text x="521.5" y="506.2" transform="rotate(-47.6 521.5 503.5)" class="cl">45</text></g>
<path d="M35.5,2.57V279.3H311.43" fill="none" stroke="#1a1a1a" stroke-width="1.7"/>
<path d="M48.99,279.3v-3.6" stroke="#444" stroke-width="0.85"/>
<path d="M35.5,265.01h3.6" stroke="#444" stroke-width="0.85"/>
<path d="M62.8,279.3v-6.6" stroke="#1a1a1a" stroke-width="1.5"/>
<path d="M35.5,251.2h6.6" stroke="#1a1a1a" stroke-width="1.5"/>
<path d="M76.61,279.3v-3.6" stroke="#444" stroke-width="0.85"/>
<path d="M35.5,237.39h3.6" stroke="#444" stroke-width="0.85"/>
<path d="M90.43,279.3v-3.6" stroke="#444" stroke-width="0.85"/>
<path d="M35.5,223.57h3.6" stroke="#444" stroke-width="0.85"/>
<path d="M104.24,279.3v-3.6" stroke="#444" stroke-width="0.85"/>
<path d="M35.5,209.76h3.6" stroke="#444" stroke-width="0.85"/>
<path d="M118.05,279.3v-6.6" stroke="#1a1a1a" stroke-width="1.5"/>
<path d="M35.5,195.95h6.6" stroke="#1a1a1a" stroke-width="1.5"/>
<path d="M131.86,279.3v-3.6" stroke="#444" stroke-width="0.85"/>
<path d="M35.5,182.14h3.6" stroke="#444" stroke-width="0.85"/>
<path d="M145.68,279.3v-3.6" stroke="#444" stroke-width="0.85"/>
<path d="M35.5,168.32h3.6" stroke="#444" stroke-width="0.85"/>
<path d="M159.49,279.3v-3.6" stroke="#444" stroke-width="0.85"/>
<path d="M35.5,154.51h3.6" stroke="#444" stroke-width="0.85"/>
<path d="M173.3,279.3v-6.6" stroke="#1a1a1a" stroke-width="1.5"/>
<path d="M35.5,140.7h6.6" stroke="#1a1a1a" stroke-width="1.5"/>
<path d="M187.11,279.3v-3.6" stroke="#444" stroke-width="0.85"/>
<path d="M35.5,126.89h3.6" stroke="#444" stroke-width="0.85"/>
<path d="M200.93,279.3v-3.6" stroke="#444" stroke-width="0.85"/>
<path d="M35.5,113.07h3.6" stroke="#444" stroke-width="0.85"/>
<path d="M214.74,279.3v-3.6" stroke="#444" stroke-width="0.85"/>
<path d="M35.5,99.26h3.6" stroke="#444" stroke-width="0.85"/>
<path d="M228.55,279.3v-6.6" stroke="#1a1a1a" stroke-width="1.5"/>
<path d="M35.5,85.45h6.6" stroke="#1a1a1a" stroke-width="1.5"/>
<path d="M242.36,279.3v-3.6" stroke="#444" stroke-width="0.85"/>
<path d="M35.5,71.64h3.6" stroke="#444" stroke-width="0.85"/>
<path d="M256.18,279.3v-3.6" stroke="#444" stroke-width="0.85"/>
<path d="M35.5,57.82h3.6" stroke="#444" stroke-width="0.85"/>
<path d="M269.99,279.3v-3.6" stroke="#444" stroke-width="0.85"/>
<path d="M35.5,44.01h3.6" stroke="#444" stroke-width="0.85"/>
<path d="M283.8,279.3v-6.6" stroke="#1a1a1a" stroke-width="1.5"/>
<path d="M35.5,30.2h6.6" stroke="#1a1a1a" stroke-width="1.5"/>
<path d="M297.61,279.3v-3.6" stroke="#444" stroke-width="0.85"/>
<path d="M35.5,16.39h3.6" stroke="#444" stroke-width="0.85"/>
<path d="M311.43,279.3v-3.6" stroke="#444" stroke-width="0.85"/>
<path d="M35.5,2.57h3.6" stroke="#444" stroke-width="0.85"/>
<text x="62.8" y="290.3" text-anchor="middle" class="tl">-400</text>
<text x="31.1" y="255.1" text-anchor="end" class="tl">-400</text>
<text x="118.05" y="290.3" text-anchor="middle" class="tl">-200</text>
<text x="31.1" y="199.85" text-anchor="end" class="tl">-200</text>
<text x="173.3" y="290.3" text-anchor="middle" class="tl">0</text>
<text x="31.1" y="144.6" text-anchor="end" class="tl">0</text>
<text x="228.55" y="290.3" text-anchor="middle" class="tl">200</text>
<text x="31.1" y="89.35" text-anchor="end" class="tl">200</text>
<text x="283.8" y="290.3" text-anchor="middle" class="tl">400</text>
<text x="31.1" y="34.1" text-anchor="end" class="tl">400</text>
<text x="173.3" y="302" text-anchor="middle" class="al">x[km]</text>
<text transform="translate(11 140.7) rotate(-90)" text-anchor="middle" class="al">y[km]</text>
<path d="M380.2,6.55V277.5H651.4" fill="none" stroke="#1a1a1a" stroke-width="1.7"/>
<path d="M393.76,277.5v-3.6" stroke="#444" stroke-width="0.85"/>
<path d="M380.2,264.19h3.6" stroke="#444" stroke-width="0.85"/>
<path d="M407.32,277.5v-6.6" stroke="#1a1a1a" stroke-width="1.5"/>
<path d="M380.2,250.63h6.6" stroke="#1a1a1a" stroke-width="1.5"/>
<path d="M420.88,277.5v-3.6" stroke="#444" stroke-width="0.85"/>
<path d="M380.2,237.07h3.6" stroke="#444" stroke-width="0.85"/>
<path d="M434.44,277.5v-3.6" stroke="#444" stroke-width="0.85"/>
<path d="M380.2,223.51h3.6" stroke="#444" stroke-width="0.85"/>
<path d="M448,277.5v-3.6" stroke="#444" stroke-width="0.85"/>
<path d="M380.2,209.95h3.6" stroke="#444" stroke-width="0.85"/>
<path d="M461.56,277.5v-6.6" stroke="#1a1a1a" stroke-width="1.5"/>
<path d="M380.2,196.39h6.6" stroke="#1a1a1a" stroke-width="1.5"/>
<path d="M475.12,277.5v-3.6" stroke="#444" stroke-width="0.85"/>
<path d="M380.2,182.83h3.6" stroke="#444" stroke-width="0.85"/>
<path d="M488.68,277.5v-3.6" stroke="#444" stroke-width="0.85"/>
<path d="M380.2,169.27h3.6" stroke="#444" stroke-width="0.85"/>
<path d="M502.24,277.5v-3.6" stroke="#444" stroke-width="0.85"/>
<path d="M380.2,155.71h3.6" stroke="#444" stroke-width="0.85"/>
<path d="M515.8,277.5v-6.6" stroke="#1a1a1a" stroke-width="1.5"/>
<path d="M380.2,142.15h6.6" stroke="#1a1a1a" stroke-width="1.5"/>
<path d="M529.36,277.5v-3.6" stroke="#444" stroke-width="0.85"/>
<path d="M380.2,128.59h3.6" stroke="#444" stroke-width="0.85"/>
<path d="M542.92,277.5v-3.6" stroke="#444" stroke-width="0.85"/>
<path d="M380.2,115.03h3.6" stroke="#444" stroke-width="0.85"/>
<path d="M556.48,277.5v-3.6" stroke="#444" stroke-width="0.85"/>
<path d="M380.2,101.47h3.6" stroke="#444" stroke-width="0.85"/>
<path d="M570.04,277.5v-6.6" stroke="#1a1a1a" stroke-width="1.5"/>
<path d="M380.2,87.91h6.6" stroke="#1a1a1a" stroke-width="1.5"/>
<path d="M583.6,277.5v-3.6" stroke="#444" stroke-width="0.85"/>
<path d="M380.2,74.35h3.6" stroke="#444" stroke-width="0.85"/>
<path d="M597.16,277.5v-3.6" stroke="#444" stroke-width="0.85"/>
<path d="M380.2,60.79h3.6" stroke="#444" stroke-width="0.85"/>
<path d="M610.72,277.5v-3.6" stroke="#444" stroke-width="0.85"/>
<path d="M380.2,47.23h3.6" stroke="#444" stroke-width="0.85"/>
<path d="M624.28,277.5v-6.6" stroke="#1a1a1a" stroke-width="1.5"/>
<path d="M380.2,33.67h6.6" stroke="#1a1a1a" stroke-width="1.5"/>
<path d="M637.84,277.5v-3.6" stroke="#444" stroke-width="0.85"/>
<path d="M380.2,20.11h3.6" stroke="#444" stroke-width="0.85"/>
<path d="M651.4,277.5v-3.6" stroke="#444" stroke-width="0.85"/>
<path d="M380.2,6.55h3.6" stroke="#444" stroke-width="0.85"/>
<text x="407.32" y="288.5" text-anchor="middle" class="tl">-400</text>
<text x="375.8" y="254.53" text-anchor="end" class="tl">-400</text>
<text x="461.56" y="288.5" text-anchor="middle" class="tl">-200</text>
<text x="375.8" y="200.29" text-anchor="end" class="tl">-200</text>
<text x="515.8" y="288.5" text-anchor="middle" class="tl">0</text>
<text x="375.8" y="146.05" text-anchor="end" class="tl">0</text>
<text x="570.04" y="288.5" text-anchor="middle" class="tl">200</text>
<text x="375.8" y="91.81" text-anchor="end" class="tl">200</text>
<text x="624.28" y="288.5" text-anchor="middle" class="tl">400</text>
<text x="375.8" y="37.57" text-anchor="end" class="tl">400</text>
<text x="515.8" y="300.2" text-anchor="middle" class="al">x [km]</text>
<text transform="translate(356.7 142.15) rotate(-90)" text-anchor="middle" class="al">y [km]</text>
<path d="M40,360.15V637H316.15" fill="none" stroke="#1a1a1a" stroke-width="1.7"/>
<path d="M53.57,637v-3.6" stroke="#444" stroke-width="0.85"/>
<path d="M40,622.73h3.6" stroke="#444" stroke-width="0.85"/>
<path d="M67.39,637v-6.6" stroke="#1a1a1a" stroke-width="1.5"/>
<path d="M40,608.91h6.6" stroke="#1a1a1a" stroke-width="1.5"/>
<path d="M81.21,637v-3.6" stroke="#444" stroke-width="0.85"/>
<path d="M40,595.09h3.6" stroke="#444" stroke-width="0.85"/>
<path d="M95.03,637v-3.6" stroke="#444" stroke-width="0.85"/>
<path d="M40,581.27h3.6" stroke="#444" stroke-width="0.85"/>
<path d="M108.85,637v-3.6" stroke="#444" stroke-width="0.85"/>
<path d="M40,567.45h3.6" stroke="#444" stroke-width="0.85"/>
<path d="M122.67,637v-6.6" stroke="#1a1a1a" stroke-width="1.5"/>
<path d="M40,553.63h6.6" stroke="#1a1a1a" stroke-width="1.5"/>
<path d="M136.49,637v-3.6" stroke="#444" stroke-width="0.85"/>
<path d="M40,539.81h3.6" stroke="#444" stroke-width="0.85"/>
<path d="M150.31,637v-3.6" stroke="#444" stroke-width="0.85"/>
<path d="M40,525.99h3.6" stroke="#444" stroke-width="0.85"/>
<path d="M164.13,637v-3.6" stroke="#444" stroke-width="0.85"/>
<path d="M40,512.17h3.6" stroke="#444" stroke-width="0.85"/>
<path d="M177.95,637v-6.6" stroke="#1a1a1a" stroke-width="1.5"/>
<path d="M40,498.35h6.6" stroke="#1a1a1a" stroke-width="1.5"/>
<path d="M191.77,637v-3.6" stroke="#444" stroke-width="0.85"/>
<path d="M40,484.53h3.6" stroke="#444" stroke-width="0.85"/>
<path d="M205.59,637v-3.6" stroke="#444" stroke-width="0.85"/>
<path d="M40,470.71h3.6" stroke="#444" stroke-width="0.85"/>
<path d="M219.41,637v-3.6" stroke="#444" stroke-width="0.85"/>
<path d="M40,456.89h3.6" stroke="#444" stroke-width="0.85"/>
<path d="M233.23,637v-6.6" stroke="#1a1a1a" stroke-width="1.5"/>
<path d="M40,443.07h6.6" stroke="#1a1a1a" stroke-width="1.5"/>
<path d="M247.05,637v-3.6" stroke="#444" stroke-width="0.85"/>
<path d="M40,429.25h3.6" stroke="#444" stroke-width="0.85"/>
<path d="M260.87,637v-3.6" stroke="#444" stroke-width="0.85"/>
<path d="M40,415.43h3.6" stroke="#444" stroke-width="0.85"/>
<path d="M274.69,637v-3.6" stroke="#444" stroke-width="0.85"/>
<path d="M40,401.61h3.6" stroke="#444" stroke-width="0.85"/>
<path d="M288.51,637v-6.6" stroke="#1a1a1a" stroke-width="1.5"/>
<path d="M40,387.79h6.6" stroke="#1a1a1a" stroke-width="1.5"/>
<path d="M302.33,637v-3.6" stroke="#444" stroke-width="0.85"/>
<path d="M40,373.97h3.6" stroke="#444" stroke-width="0.85"/>
<path d="M316.15,637v-3.6" stroke="#444" stroke-width="0.85"/>
<path d="M40,360.15h3.6" stroke="#444" stroke-width="0.85"/>
<text x="67.39" y="648" text-anchor="middle" class="tl">-400</text>
<text x="35.6" y="612.81" text-anchor="end" class="tl">-400</text>
<text x="122.67" y="648" text-anchor="middle" class="tl">-200</text>
<text x="35.6" y="557.53" text-anchor="end" class="tl">-200</text>
<text x="177.95" y="648" text-anchor="middle" class="tl">0</text>
<text x="35.6" y="502.25" text-anchor="end" class="tl">0</text>
<text x="233.23" y="648" text-anchor="middle" class="tl">200</text>
<text x="35.6" y="446.97" text-anchor="end" class="tl">200</text>
<text x="288.51" y="648" text-anchor="middle" class="tl">400</text>
<text x="35.6" y="391.69" text-anchor="end" class="tl">400</text>
<text x="177.95" y="659.7" text-anchor="middle" class="al">x [km]</text>
<text transform="translate(15.5 498.35) rotate(-90)" text-anchor="middle" class="al">y [km]</text>
<path d="M382.5,365.2V637.9H655.15" fill="none" stroke="#1a1a1a" stroke-width="1.7"/>
<path d="M395.71,637.9v-3.6" stroke="#444" stroke-width="0.85"/>
<path d="M382.5,624.64h3.6" stroke="#444" stroke-width="0.85"/>
<path d="M409.36,637.9v-6.6" stroke="#1a1a1a" stroke-width="1.5"/>
<path d="M382.5,610.99h6.6" stroke="#1a1a1a" stroke-width="1.5"/>
<path d="M423.01,637.9v-3.6" stroke="#444" stroke-width="0.85"/>
<path d="M382.5,597.34h3.6" stroke="#444" stroke-width="0.85"/>
<path d="M436.67,637.9v-3.6" stroke="#444" stroke-width="0.85"/>
<path d="M382.5,583.68h3.6" stroke="#444" stroke-width="0.85"/>
<path d="M450.33,637.9v-3.6" stroke="#444" stroke-width="0.85"/>
<path d="M382.5,570.02h3.6" stroke="#444" stroke-width="0.85"/>
<path d="M463.98,637.9v-6.6" stroke="#1a1a1a" stroke-width="1.5"/>
<path d="M382.5,556.37h6.6" stroke="#1a1a1a" stroke-width="1.5"/>
<path d="M477.63,637.9v-3.6" stroke="#444" stroke-width="0.85"/>
<path d="M382.5,542.72h3.6" stroke="#444" stroke-width="0.85"/>
<path d="M491.29,637.9v-3.6" stroke="#444" stroke-width="0.85"/>
<path d="M382.5,529.06h3.6" stroke="#444" stroke-width="0.85"/>
<path d="M504.95,637.9v-3.6" stroke="#444" stroke-width="0.85"/>
<path d="M382.5,515.4h3.6" stroke="#444" stroke-width="0.85"/>
<path d="M518.6,637.9v-6.6" stroke="#1a1a1a" stroke-width="1.5"/>
<path d="M382.5,501.75h6.6" stroke="#1a1a1a" stroke-width="1.5"/>
<path d="M532.25,637.9v-3.6" stroke="#444" stroke-width="0.85"/>
<path d="M382.5,488.1h3.6" stroke="#444" stroke-width="0.85"/>
<path d="M545.91,637.9v-3.6" stroke="#444" stroke-width="0.85"/>
<path d="M382.5,474.44h3.6" stroke="#444" stroke-width="0.85"/>
<path d="M559.57,637.9v-3.6" stroke="#444" stroke-width="0.85"/>
<path d="M382.5,460.78h3.6" stroke="#444" stroke-width="0.85"/>
<path d="M573.22,637.9v-6.6" stroke="#1a1a1a" stroke-width="1.5"/>
<path d="M382.5,447.13h6.6" stroke="#1a1a1a" stroke-width="1.5"/>
<path d="M586.88,637.9v-3.6" stroke="#444" stroke-width="0.85"/>
<path d="M382.5,433.48h3.6" stroke="#444" stroke-width="0.85"/>
<path d="M600.53,637.9v-3.6" stroke="#444" stroke-width="0.85"/>
<path d="M382.5,419.82h3.6" stroke="#444" stroke-width="0.85"/>
<path d="M614.19,637.9v-3.6" stroke="#444" stroke-width="0.85"/>
<path d="M382.5,406.16h3.6" stroke="#444" stroke-width="0.85"/>
<path d="M627.84,637.9v-6.6" stroke="#1a1a1a" stroke-width="1.5"/>
<path d="M382.5,392.51h6.6" stroke="#1a1a1a" stroke-width="1.5"/>
<path d="M641.5,637.9v-3.6" stroke="#444" stroke-width="0.85"/>
<path d="M382.5,378.86h3.6" stroke="#444" stroke-width="0.85"/>
<path d="M655.15,637.9v-3.6" stroke="#444" stroke-width="0.85"/>
<path d="M382.5,365.2h3.6" stroke="#444" stroke-width="0.85"/>
<text x="409.36" y="648.9" text-anchor="middle" class="tl">-400</text>
<text x="378.1" y="614.89" text-anchor="end" class="tl">-400</text>
<text x="463.98" y="648.9" text-anchor="middle" class="tl">-200</text>
<text x="378.1" y="560.27" text-anchor="end" class="tl">-200</text>
<text x="518.6" y="648.9" text-anchor="middle" class="tl">0</text>
<text x="378.1" y="505.65" text-anchor="end" class="tl">0</text>
<text x="573.22" y="648.9" text-anchor="middle" class="tl">200</text>
<text x="378.1" y="451.03" text-anchor="end" class="tl">200</text>
<text x="627.84" y="648.9" text-anchor="middle" class="tl">400</text>
<text x="378.1" y="396.41" text-anchor="end" class="tl">400</text>
<text x="518.6" y="660.6" text-anchor="middle" class="al">x [km]</text>
<text transform="translate(358.4 501.75) rotate(-90)" text-anchor="middle" class="al">y [km]</text>
<rect x="298.5" y="8.4" width="38.9" height="142" fill="#fff" stroke="#8a8a8a" stroke-width="1"/>
<text x="301.9" y="17.9" class="lt">Vs [m/s]</text>
<rect x="301.9" y="24.5" width="13.3" height="5.68" fill="#ff0000"/>
<rect x="301.9" y="29.88" width="13.3" height="11.05" fill="#ff5a00"/>
<rect x="301.9" y="40.63" width="13.3" height="11.05" fill="#ffb400"/>
<rect x="301.9" y="51.39" width="13.3" height="11.05" fill="#eeff00"/>
<rect x="301.9" y="62.14" width="13.3" height="11.05" fill="#8eff00"/>
<rect x="301.9" y="72.9" width="13.3" height="11.05" fill="#2aff00"/>
<rect x="301.9" y="83.65" width="13.3" height="11.05" fill="#00f836"/>
<rect x="301.9" y="94.4" width="13.3" height="11.05" fill="#00fa96"/>
<rect x="301.9" y="105.16" width="13.3" height="11.05" fill="#00fce6"/>
<rect x="301.9" y="115.91" width="13.3" height="11.05" fill="#00b8ff"/>
<rect x="301.9" y="126.67" width="13.3" height="11.05" fill="#0055ff"/>
<rect x="301.9" y="137.42" width="13.3" height="5.68" fill="#0000f8"/>
<path d="M301.9,29.88H315.2" stroke="#000" stroke-opacity="0.3" stroke-width="0.6"/>
<path d="M301.9,40.63H315.2" stroke="#000" stroke-opacity="0.3" stroke-width="0.6"/>
<path d="M301.9,51.39H315.2" stroke="#000" stroke-opacity="0.3" stroke-width="0.6"/>
<path d="M301.9,62.14H315.2" stroke="#000" stroke-opacity="0.3" stroke-width="0.6"/>
<path d="M301.9,72.9H315.2" stroke="#000" stroke-opacity="0.3" stroke-width="0.6"/>
<path d="M301.9,83.65H315.2" stroke="#000" stroke-opacity="0.3" stroke-width="0.6"/>
<path d="M301.9,94.4H315.2" stroke="#000" stroke-opacity="0.3" stroke-width="0.6"/>
<path d="M301.9,105.16H315.2" stroke="#000" stroke-opacity="0.3" stroke-width="0.6"/>
<path d="M301.9,115.91H315.2" stroke="#000" stroke-opacity="0.3" stroke-width="0.6"/>
<path d="M301.9,126.67H315.2" stroke="#000" stroke-opacity="0.3" stroke-width="0.6"/>
<path d="M301.9,137.42H315.2" stroke="#000" stroke-opacity="0.3" stroke-width="0.6"/>
<text x="322.3" y="33.98" class="lv">55</text>
<text x="322.3" y="44.73" class="lv">50</text>
<text x="322.3" y="55.49" class="lv">45</text>
<text x="322.3" y="66.24" class="lv">40</text>
<text x="322.3" y="77" class="lv">35</text>
<text x="322.3" y="87.75" class="lv">30</text>
<text x="322.3" y="98.5" class="lv">25</text>
<text x="322.3" y="109.26" class="lv">20</text>
<text x="322.3" y="120.01" class="lv">15</text>
<text x="322.3" y="130.77" class="lv">10</text>
<text x="322.3" y="141.52" class="lv">5</text>
<rect x="637.8" y="12" width="38.6" height="139.3" fill="#fff" stroke="#8a8a8a" stroke-width="1"/>
<text x="640.9" y="21.9" class="lt">Vg [m/s]</text>
<rect x="641.1" y="27.7" width="13.3" height="5.59" fill="#ff0000"/>
<rect x="641.1" y="32.99" width="13.3" height="10.87" fill="#ff5a00"/>
<rect x="641.1" y="43.56" width="13.3" height="10.87" fill="#ffb400"/>
<rect x="641.1" y="54.13" width="13.3" height="10.87" fill="#eeff00"/>
<rect x="641.1" y="64.7" width="13.3" height="10.87" fill="#8eff00"/>
<rect x="641.1" y="75.28" width="13.3" height="10.87" fill="#2aff00"/>
<rect x="641.1" y="85.85" width="13.3" height="10.87" fill="#00f836"/>
<rect x="641.1" y="96.42" width="13.3" height="10.87" fill="#00fa96"/>
<rect x="641.1" y="107" width="13.3" height="10.87" fill="#00fce6"/>
<rect x="641.1" y="117.57" width="13.3" height="10.87" fill="#00b8ff"/>
<rect x="641.1" y="128.14" width="13.3" height="10.87" fill="#0055ff"/>
<rect x="641.1" y="138.71" width="13.3" height="5.59" fill="#0000f8"/>
<path d="M641.1,32.99H654.4" stroke="#000" stroke-opacity="0.3" stroke-width="0.6"/>
<path d="M641.1,43.56H654.4" stroke="#000" stroke-opacity="0.3" stroke-width="0.6"/>
<path d="M641.1,54.13H654.4" stroke="#000" stroke-opacity="0.3" stroke-width="0.6"/>
<path d="M641.1,64.7H654.4" stroke="#000" stroke-opacity="0.3" stroke-width="0.6"/>
<path d="M641.1,75.28H654.4" stroke="#000" stroke-opacity="0.3" stroke-width="0.6"/>
<path d="M641.1,85.85H654.4" stroke="#000" stroke-opacity="0.3" stroke-width="0.6"/>
<path d="M641.1,96.42H654.4" stroke="#000" stroke-opacity="0.3" stroke-width="0.6"/>
<path d="M641.1,107H654.4" stroke="#000" stroke-opacity="0.3" stroke-width="0.6"/>
<path d="M641.1,117.57H654.4" stroke="#000" stroke-opacity="0.3" stroke-width="0.6"/>
<path d="M641.1,128.14H654.4" stroke="#000" stroke-opacity="0.3" stroke-width="0.6"/>
<path d="M641.1,138.71H654.4" stroke="#000" stroke-opacity="0.3" stroke-width="0.6"/>
<text x="660.8" y="37.09" class="lv">55</text>
<text x="660.8" y="47.66" class="lv">50</text>
<text x="660.8" y="58.23" class="lv">45</text>
<text x="660.8" y="68.8" class="lv">40</text>
<text x="660.8" y="79.38" class="lv">35</text>
<text x="660.8" y="89.95" class="lv">30</text>
<text x="660.8" y="100.52" class="lv">25</text>
<text x="660.8" y="111.1" class="lv">20</text>
<text x="660.8" y="121.67" class="lv">15</text>
<text x="660.8" y="132.24" class="lv">10</text>
<text x="660.8" y="142.81" class="lv">5</text>
<rect x="302.4" y="366.1" width="39.3" height="141.9" fill="#fff" stroke="#8a8a8a" stroke-width="1"/>
<text x="306.2" y="376.3" class="lt">Vg [m/s]</text>
<rect x="305.8" y="382" width="13.3" height="5.68" fill="#ff0000"/>
<rect x="305.8" y="387.38" width="13.3" height="11.06" fill="#ff5a00"/>
<rect x="305.8" y="398.15" width="13.3" height="11.06" fill="#ffb400"/>
<rect x="305.8" y="408.91" width="13.3" height="11.06" fill="#eeff00"/>
<rect x="305.8" y="419.67" width="13.3" height="11.06" fill="#8eff00"/>
<rect x="305.8" y="430.44" width="13.3" height="11.06" fill="#2aff00"/>
<rect x="305.8" y="441.2" width="13.3" height="11.06" fill="#00f836"/>
<rect x="305.8" y="451.96" width="13.3" height="11.06" fill="#00fa96"/>
<rect x="305.8" y="462.73" width="13.3" height="11.06" fill="#00fce6"/>
<rect x="305.8" y="473.49" width="13.3" height="11.06" fill="#00b8ff"/>
<rect x="305.8" y="484.25" width="13.3" height="11.06" fill="#0055ff"/>
<rect x="305.8" y="495.02" width="13.3" height="5.68" fill="#0000f8"/>
<path d="M305.8,387.38H319.1" stroke="#000" stroke-opacity="0.3" stroke-width="0.6"/>
<path d="M305.8,398.15H319.1" stroke="#000" stroke-opacity="0.3" stroke-width="0.6"/>
<path d="M305.8,408.91H319.1" stroke="#000" stroke-opacity="0.3" stroke-width="0.6"/>
<path d="M305.8,419.67H319.1" stroke="#000" stroke-opacity="0.3" stroke-width="0.6"/>
<path d="M305.8,430.44H319.1" stroke="#000" stroke-opacity="0.3" stroke-width="0.6"/>
<path d="M305.8,441.2H319.1" stroke="#000" stroke-opacity="0.3" stroke-width="0.6"/>
<path d="M305.8,451.96H319.1" stroke="#000" stroke-opacity="0.3" stroke-width="0.6"/>
<path d="M305.8,462.73H319.1" stroke="#000" stroke-opacity="0.3" stroke-width="0.6"/>
<path d="M305.8,473.49H319.1" stroke="#000" stroke-opacity="0.3" stroke-width="0.6"/>
<path d="M305.8,484.25H319.1" stroke="#000" stroke-opacity="0.3" stroke-width="0.6"/>
<path d="M305.8,495.02H319.1" stroke="#000" stroke-opacity="0.3" stroke-width="0.6"/>
<text x="325.9" y="391.48" class="lv">55</text>
<text x="325.9" y="402.25" class="lv">50</text>
<text x="325.9" y="413.01" class="lv">45</text>
<text x="325.9" y="423.77" class="lv">40</text>
<text x="325.9" y="434.54" class="lv">35</text>
<text x="325.9" y="445.3" class="lv">30</text>
<text x="325.9" y="456.06" class="lv">25</text>
<text x="325.9" y="466.83" class="lv">20</text>
<text x="325.9" y="477.59" class="lv">15</text>
<text x="325.9" y="488.35" class="lv">10</text>
<text x="325.9" y="499.12" class="lv">5</text>
<rect x="641.3" y="370.7" width="38.7" height="139.9" fill="#fff" stroke="#8a8a8a" stroke-width="1"/>
<text x="644.7" y="380.6" class="lt">Vg [m/s]</text>
<rect x="645.1" y="386.6" width="13.1" height="5.62" fill="#ff0000"/>
<rect x="645.1" y="391.92" width="13.1" height="10.94" fill="#ff5a00"/>
<rect x="645.1" y="402.55" width="13.1" height="10.94" fill="#ffb400"/>
<rect x="645.1" y="413.19" width="13.1" height="10.94" fill="#eeff00"/>
<rect x="645.1" y="423.83" width="13.1" height="10.94" fill="#8eff00"/>
<rect x="645.1" y="434.46" width="13.1" height="10.94" fill="#2aff00"/>
<rect x="645.1" y="445.1" width="13.1" height="10.94" fill="#00f836"/>
<rect x="645.1" y="455.74" width="13.1" height="10.94" fill="#00fa96"/>
<rect x="645.1" y="466.37" width="13.1" height="10.94" fill="#00fce6"/>
<rect x="645.1" y="477.01" width="13.1" height="10.94" fill="#00b8ff"/>
<rect x="645.1" y="487.65" width="13.1" height="10.94" fill="#0055ff"/>
<rect x="645.1" y="498.28" width="13.1" height="5.62" fill="#0000f8"/>
<path d="M645.1,391.92H658.2" stroke="#000" stroke-opacity="0.3" stroke-width="0.6"/>
<path d="M645.1,402.55H658.2" stroke="#000" stroke-opacity="0.3" stroke-width="0.6"/>
<path d="M645.1,413.19H658.2" stroke="#000" stroke-opacity="0.3" stroke-width="0.6"/>
<path d="M645.1,423.83H658.2" stroke="#000" stroke-opacity="0.3" stroke-width="0.6"/>
<path d="M645.1,434.46H658.2" stroke="#000" stroke-opacity="0.3" stroke-width="0.6"/>
<path d="M645.1,445.1H658.2" stroke="#000" stroke-opacity="0.3" stroke-width="0.6"/>
<path d="M645.1,455.74H658.2" stroke="#000" stroke-opacity="0.3" stroke-width="0.6"/>
<path d="M645.1,466.37H658.2" stroke="#000" stroke-opacity="0.3" stroke-width="0.6"/>
<path d="M645.1,477.01H658.2" stroke="#000" stroke-opacity="0.3" stroke-width="0.6"/>
<path d="M645.1,487.65H658.2" stroke="#000" stroke-opacity="0.3" stroke-width="0.6"/>
<path d="M645.1,498.28H658.2" stroke="#000" stroke-opacity="0.3" stroke-width="0.6"/>
<text x="664.5" y="396.02" class="lv">55</text>
<text x="664.5" y="406.65" class="lv">50</text>
<text x="664.5" y="417.29" class="lv">45</text>
<text x="664.5" y="427.93" class="lv">40</text>
<text x="664.5" y="438.56" class="lv">35</text>
<text x="664.5" y="449.2" class="lv">30</text>
<text x="664.5" y="459.84" class="lv">25</text>
<text x="664.5" y="470.47" class="lv">20</text>
<text x="664.5" y="481.11" class="lv">15</text>
<text x="664.5" y="491.75" class="lv">10</text>
<text x="664.5" y="502.38" class="lv">5</text>
<text x="174.4" y="327.4" text-anchor="middle" class="cap">(a)</text>
<text x="516.5" y="326.8" text-anchor="middle" class="cap">(b)</text>
<text x="181.5" y="684.8" text-anchor="middle" class="cap">(c)</text>
<text x="520.7" y="684.8" text-anchor="middle" class="cap">(d)</text>
<rect x="347" y="356.1" width="3.5" height="6.1" fill="#ffff00"/>
</svg></body></html>
